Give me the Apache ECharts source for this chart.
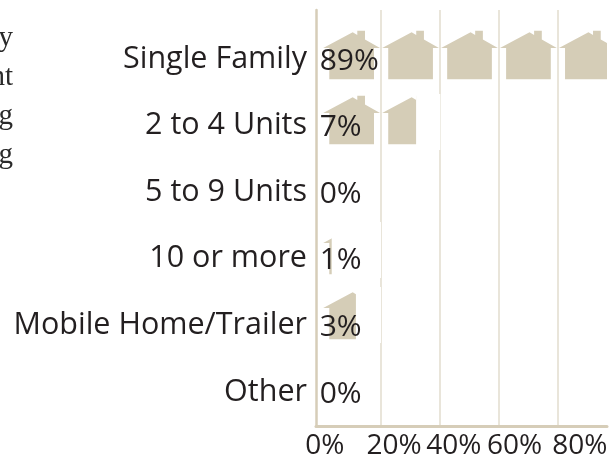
<!DOCTYPE html>
<html><head><meta charset="utf-8">
<style>html,body{margin:0;padding:0;background:#fff}#c{width:612px;height:455px}</style>
<script src="https://cdn.jsdelivr.net/npm/echarts@6/dist/echarts.min.js"></script>
</head><body><div id="c"></div>
<script>
const categories = ['Single Family','2 to 4 Units','5 to 9 Units','10 or more','Mobile Home/Trailer','Other'];
const valueLabels = ['89%','7%','0%','1%','3%','0%'];
const barLengths = [97, 32, 0, 3.4, 11.6, 0];
const tickLabels = ['0%','20%','40%','60%','80%'];
const gridValues = [20, 40, 60, 80];
const sideText = ['y','nt','g','g'];

const AX_MIN = -1.93, AX_MAX = 96.7;
const labelAt = [1.1, 24.5, 44.8, 65.4, 87.5];
const font = '"Open Sans"';
const ink = '#231f20';
const HOUSE = 'path://M0 0L59 0L59 0ZM1.5 17.3L31 1.6L35.6 4.2L35.6 0L43.3 0L43.3 8.7L58.3 17.3L52.3 17.3L52.3 48.5L7.6 48.5L7.6 17.3Z';
const grids = [
  {left:316, width:291, top:10, height:416, outerBoundsMode:'none'},
  {left:316, width:291, top:22.5, height:390, outerBoundsMode:'none'},
  {left:316, width:291, top:25.7, height:399.6, outerBoundsMode:'none'}
];
const hiddenX = i => ({gridIndex:i, type:'value', min:AX_MIN, max:AX_MAX, show:false});
const fade = [[39.76,40.2,94,150],[19.7,20.1,222,278],[19.7,20.1,287,343]];
const chart = echarts.init(document.getElementById('c'),null,{renderer:'canvas'});
chart.setOption({
  animation:false,
  grid:grids,
  xAxis:[
    {gridIndex:0,type:'value',min:AX_MIN,max:AX_MAX,position:'bottom',
     axisLine:{onZero:false,lineStyle:{color:'#d6cdb8',width:3}},
     axisTick:{show:false,customValues:gridValues},
     splitLine:{show:true,lineStyle:{color:'#e9e5da',width:2}},
     axisLabel:{customValues:labelAt,margin:6,color:ink,fontFamily:font,fontSize:28,
       hideOverlap:false,showMinLabel:true,showMaxLabel:true,
       formatter:(v,i)=>tickLabels[labelAt.indexOf(v)]}},
    hiddenX(1),hiddenX(2)
  ],
  yAxis:[
    {gridIndex:0,type:'value',min:10,max:426,inverse:true,position:'left',
     axisLine:{show:true,onZero:false,lineStyle:{color:'#d6cdb8',width:2.5}},
     axisTick:{show:false},axisLabel:{show:false},splitLine:{show:false}},
    {gridIndex:1,type:'category',data:categories,inverse:true,show:false},
    {gridIndex:2,type:'category',data:categories,inverse:true,
     axisLine:{show:false},axisTick:{show:false},
     axisLabel:{margin:9,color:ink,fontFamily:font,fontSize:30.5,interval:0}}
  ],
  series:[
    {type:'line',xAxisIndex:0,yAxisIndex:0,data:[],silent:true,
     markArea:{silent:true,itemStyle:{color:'#fff',opacity:1},
       data:fade.map(f=>[{coord:[f[0],f[2]]},{coord:[f[1],f[3]]}])}},
    {type:'pictorialBar',xAxisIndex:1,yAxisIndex:1,data:barLengths,symbol:HOUSE,
     symbolSize:[59,48.5],symbolRepeat:'fixed',symbolMargin:0,symbolClip:true,
     symbolBoundingData:99.9,symbolPosition:'start',
     itemStyle:{color:'#d5cdb7'},z:3,clip:true},
    {type:'scatter',xAxisIndex:2,yAxisIndex:2,symbolSize:0,z:5,
     itemStyle:{opacity:1},
     data:valueLabels.map((t,i)=>({value:[0,i],label:{formatter:t}})),
     label:{show:true,position:'right',distance:0,offset:[-2,2],color:ink,opacity:1,fontFamily:font,fontSize:30}}
  ],
  graphic:sideText.map((t,i)=>({type:'text',x:13,y:38.2+39.2*i,
    style:{text:t,align:'right',verticalAlign:'middle',fontFamily:'"Liberation Serif"',fontSize:29,fill:'#2a2a2a'}}))
});
</script></body></html>
